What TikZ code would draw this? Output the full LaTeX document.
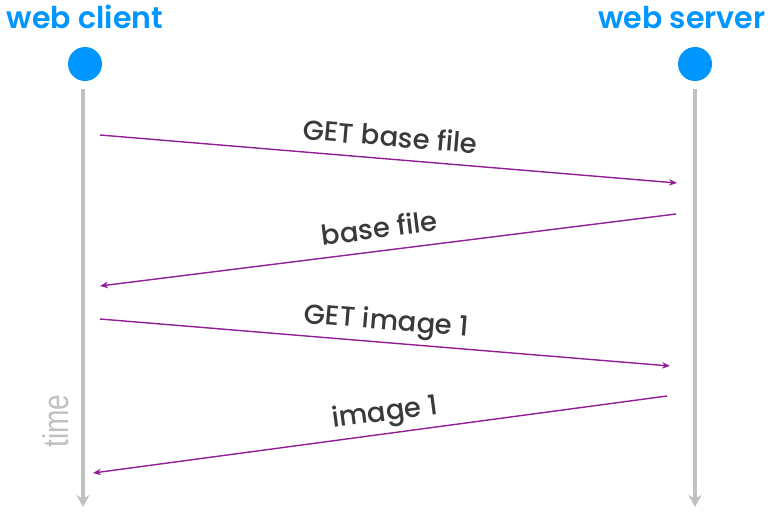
\documentclass[tikz,border=0pt]{standalone}
\usepackage{fontspec}
\setmainfont{Poppins}
\newfontfamily\labelfont{Poppins Medium}
\newfontfamily\titlefont{Poppins SemiBold}
\newfontfamily\timefont{Liberation Sans}
\usetikzlibrary{arrows.meta}
\definecolor{titleblue}{RGB}{0,150,255}
\definecolor{msgpurple}{RGB}{145,30,150}
\definecolor{lifegray}{RGB}{192,192,192}
\definecolor{labelgray}{RGB}{58,58,58}
\begin{document}
\begin{tikzpicture}[x=1pt,y=-1pt,
  title/.style={font=\titlefont\fontsize{30}{31}\selectfont, text=titleblue, anchor=base, inner sep=0pt},
  dot/.style={circle, fill=titleblue, minimum size=34pt, inner sep=0pt},
  lifeline/.style={draw=lifegray, line width=3.2pt, -{Stealth[length=12pt,width=13pt]}},
  msg/.style={draw=msgpurple, line width=1.4pt, -{Stealth[length=8pt,width=6.5pt]}},
  msglabel/.style={font=\labelfont\fontsize{27.5}{28}\selectfont, text=labelgray, sloped, above=12pt, inner sep=0pt, text depth=0pt},
  timelabel/.style={font=\timefont\fontsize{36}{36}\selectfont, text=lifegray, rotate=90, inner sep=0pt},
]
\useasboundingbox (0,0) rectangle (784,515);
\fill[white] (0,0) rectangle (784,515);
% participants
\node[title] (clienttitle) at (85,28) {web client};
\node[title] (servertitle) at (682,28) {web server};
\node[dot] (clientdot) at (85,64) {};
\node[dot] (serverdot) at (695,64) {};
% lifelines
\coordinate (ctop) at (83,89);
\coordinate (cbot) at (83,507);
\coordinate (stop) at (695,89);
\coordinate (sbot) at (695,507);
\draw[lifeline] (ctop) -- (cbot);
\draw[lifeline] (stop) -- (sbot);
\node[timelabel] (timetext) at (56,421) {\scalebox{0.78}[1]{time}};
% messages
\coordinate (m1s) at (100,135);
\coordinate (m1e) at (677,183);
\coordinate (m2s) at (676,214);
\coordinate (m2e) at (100,286);
\coordinate (m3s) at (100,319);
\coordinate (m3e) at (670,366);
\coordinate (m4s) at (667,396);
\coordinate (m4e) at (93,473);
\draw[msg] (m1s) -- node[msglabel, pos=0.5] (l1) {GET base file} (m1e);
\draw[msg] (m2s) -- node[msglabel, pos=0.51] (l2) {base file} (m2e);
\draw[msg] (m3s) -- node[msglabel, pos=0.5] (l3) {GET image 1} (m3e);
\draw[msg] (m4s) -- node[msglabel, pos=0.486] (l4) {image 1} (m4e);
\end{tikzpicture}
\end{document}
